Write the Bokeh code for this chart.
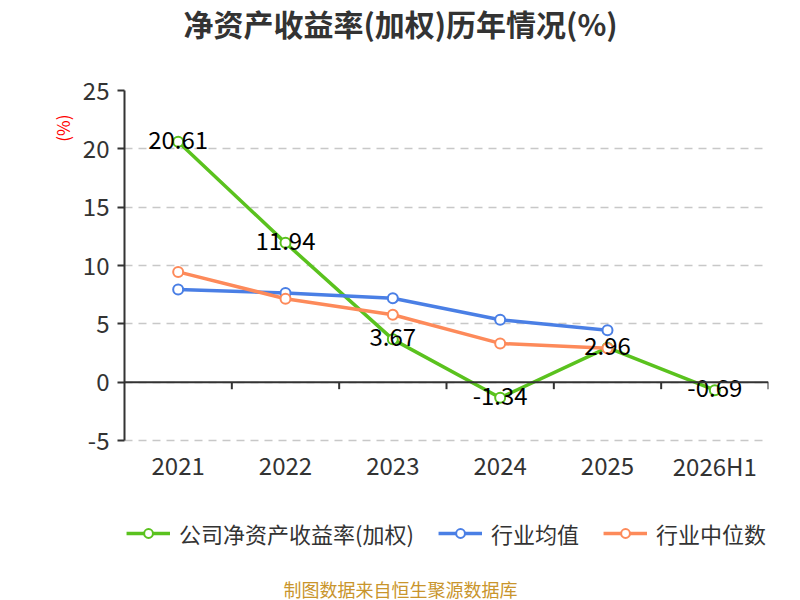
import bokeh.plotting as bkp
from bokeh.core.properties import value
from bokeh.embed import file_html
from bokeh.models import (ColumnDataSource, Label, Legend, LegendItem, Range1d,
                          Span, Title)
from bokeh.resources import INLINE

# data
years = ["2021", "2022", "2023", "2024", "2025", "2026H1"]
roe_company = [20.61, 11.94, 3.67, -1.34, 2.96, -0.69]
roe_ind_mean = [7.95, 7.65, 7.2, 5.35, 4.45]
roe_ind_median = [9.45, 7.15, 5.78, 3.32, 2.9]
y_ticks = [-5, 0, 5, 10, 15, 20, 25]

series_names = ["公司净资产收益率(加权)", "行业均值", "行业中位数"]
colors = ["#5ac21e", "#4a7fe5", "#fd8a5a"]

FONT = "Noto Sans CJK SC"
TXT = "#333333"

xs = list(range(len(years)))

# the frame runs on below the value area so the legend can sit inside it
PLOT_H = 350
EXTRA_H = 120
span_y = y_ticks[-1] - y_ticks[0]
y_start = y_ticks[0] - span_y * EXTRA_H / PLOT_H

p = bkp.figure(
    title=None,
    width=800,
    height=600,
    min_border_left=124,
    min_border_right=32,
    min_border_top=90,
    min_border_bottom=40,
    x_range=Range1d(-0.5, len(years) - 0.5),
    y_range=Range1d(y_start, y_ticks[-1]),
    output_backend="svg",
    toolbar_location=None,
    tools="",
)
p.outline_line_alpha = 0
p.background_fill_color = "white"
p.border_fill_color = "white"

# y axis
p.yaxis.ticker = y_ticks
p.yaxis.bounds = (y_ticks[0], y_ticks[-1])
p.yaxis.major_label_overrides = {t: str(t) for t in y_ticks}
p.yaxis.axis_line_color = TXT
p.yaxis.axis_line_width = 2
p.yaxis.major_tick_line_color = TXT
p.yaxis.major_tick_line_width = 2
p.yaxis.major_tick_out = 7
p.yaxis.major_tick_in = 0
p.yaxis.minor_tick_line_alpha = 0
p.yaxis.major_label_text_font = FONT
p.yaxis.major_label_text_font_size = "24px"
p.yaxis.major_label_text_color = TXT
p.yaxis.major_label_standoff = 8

p.xaxis.visible = False

p.xgrid.grid_line_alpha = 0
p.ygrid.ticker = y_ticks
p.ygrid.grid_line_color = "#c8c8c8"
p.ygrid.grid_line_width = 1.5
p.ygrid.grid_line_dash = "8 6"

zero = Span(location=0, dimension="width", line_color=TXT, line_width=2)
p.add_layout(zero)

# category boundary ticks hanging from the zero line
bounds = [i + 0.5 for i in xs]
p.segment(bounds, [0] * len(bounds), bounds, [-0.6] * len(bounds),
          line_color=TXT, line_width=2)

# category labels under the value area
cat_src = ColumnDataSource(dict(x=xs, y=[y_ticks[0]] * len(xs), t=years))
p.text("x", "y", text="t", source=cat_src, text_align="center",
       text_baseline="middle", y_offset=25, text_font=value(FONT),
       text_font_size="24px", text_color=TXT)

items = []
for name, vals, col in zip(series_names, [roe_company, roe_ind_mean, roe_ind_median], colors):
    src = ColumnDataSource(dict(x=xs[:len(vals)], y=vals))
    ln = p.line("x", "y", source=src, line_color=col, line_width=3.5)
    sc = p.scatter("x", "y", source=src, size=10, fill_color="white",
                   line_color=col, line_width=2)
    # larger ring used only for the legend icon
    icon = p.scatter(x=[], y=[], size=19, fill_color="white",
                     line_color=col, line_width=2)
    items.append(LegendItem(label=name, renderers=[ln, sc, icon]))

# value labels for the company series
lab_src = ColumnDataSource(dict(x=xs, y=roe_company,
                                t=[f"{v:.2f}" for v in roe_company]))
p.text("x", "y", text="t", source=lab_src, text_align="center",
       text_baseline="middle", y_offset=-2, text_font=value(FONT),
       text_font_size="24px", text_color="black")

# red unit label on the left, near the top
p.add_layout(Title(text="(%)", align="right", offset=24, standoff=10,
                   text_font=FONT, text_font_size="17px",
                   text_font_style="normal", text_color="#ff0000"), "left")

# title and source note, positioned from the bottom of their top-border slots
p.add_layout(Label(x=276, y=68, x_units="screen", y_units="screen",
                   text="净资产收益率(加权)历年情况(%)", text_align="center",
                   text_baseline="middle", text_font=FONT, text_font_size="30px",
                   text_font_style="bold", text_color=TXT), "above")
p.add_layout(Label(x=276, y=-542, x_units="screen", y_units="screen",
                   text="制图数据来自恒生聚源数据库", text_align="center",
                   text_baseline="middle", text_font=FONT, text_font_size="18px",
                   text_color="#c9952c"), "above")

legend = Legend(
    items=items,
    orientation="horizontal",
    location="bottom_center",
    border_line_alpha=0,
    background_fill_alpha=0,
    padding=0,
    margin=11,
    spacing=24,
    label_standoff=9,
    glyph_width=44,
    glyph_height=22,
    label_text_font=FONT,
    label_text_font_size="22px",
    label_text_color=TXT,
)
p.add_layout(legend, "center")

open("out.html", "w").write(file_html(p, INLINE))
